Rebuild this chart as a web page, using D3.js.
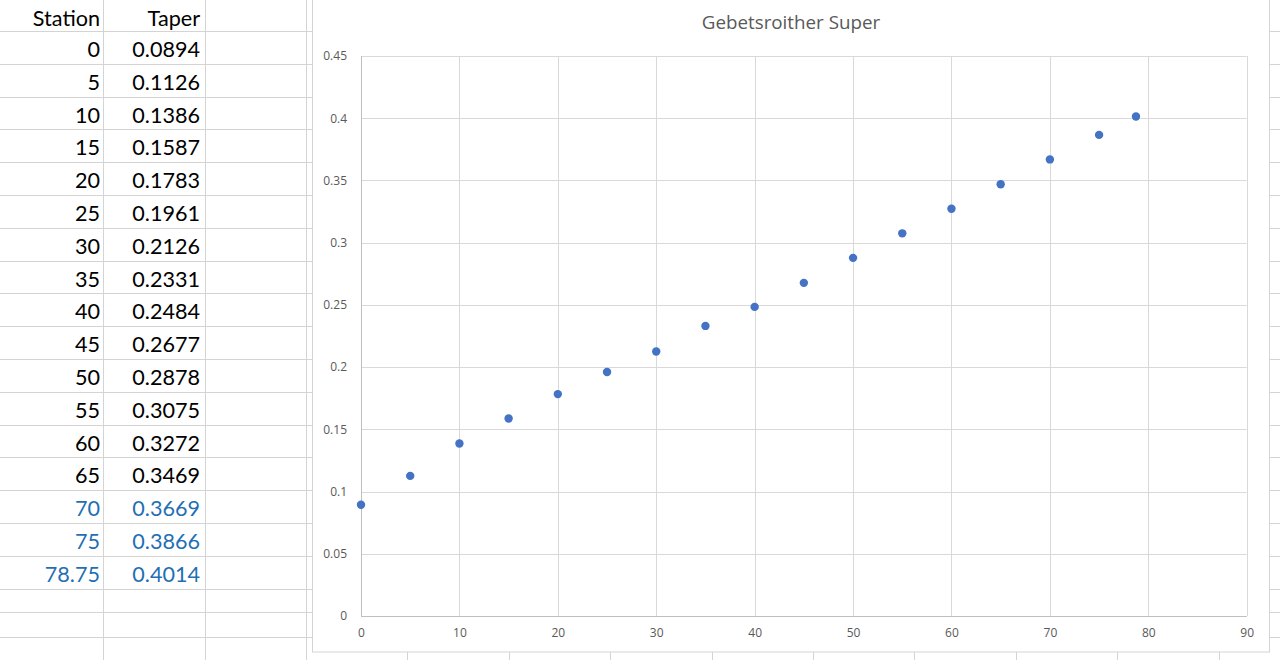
<!DOCTYPE html>
<html><head><meta charset="utf-8">
<script src="https://cdn.jsdelivr.net/npm/d3@7"></script>
<style>
html,body{margin:0;padding:0;background:#fff;overflow:hidden;}
svg{display:block;}
</style></head>
<body>
<svg id="c" width="1280" height="660"></svg>
<script>
// ---- data ----
const stations = [0, 5, 10, 15, 20, 25, 30, 35, 40, 45, 50, 55, 60, 65, 70, 75, 78.75];
const stationLabels = ["0","5","10","15","20","25","30","35","40","45","50","55","60","65","70","75","78.75"];
const tapers = [0.0894, 0.1126, 0.1386, 0.1587, 0.1783, 0.1961, 0.2126, 0.2331, 0.2484, 0.2677, 0.2878, 0.3075, 0.3272, 0.3469, 0.3669, 0.3866, 0.4014];
const taperLabels = ["0.0894","0.1126","0.1386","0.1587","0.1783","0.1961","0.2126","0.2331","0.2484","0.2677","0.2878","0.3075","0.3272","0.3469","0.3669","0.3866","0.4014"];
const highlighted = [false,false,false,false,false,false,false,false,false,false,false,false,false,false,true,true,true];
const headers = ["Station", "Taper"];
const xTicks = [0,10,20,30,40,50,60,70,80,90];
const yTicks = [0,0.05,0.1,0.15,0.2,0.25,0.3,0.35,0.4,0.45];
const chartTitle = "Gebetsroither Super";

const svg = d3.select("#c");
const gridColor = "#d4d4d4";

// ---- spreadsheet background grid ----
const rowLines = [];
for (let k = 0; k <= 17; k++) rowLines.push(31 + 32.8 * k);
rowLines.push(612, 637);
const bg = svg.append("g");
bg.selectAll("line.h").data(rowLines).join("line")
  .attr("x1", 0).attr("x2", 1280)
  .attr("y1", d => Math.round(d) + 0.5).attr("y2", d => Math.round(d) + 0.5)
  .attr("stroke", gridColor).attr("stroke-width", 1);
const colLines = [];
for (let k = -2; k <= 9; k++) colLines.push(306 + 101.4 * k);
bg.selectAll("line.v").data(colLines).join("line")
  .attr("x1", d => Math.round(d) + 0.5).attr("x2", d => Math.round(d) + 0.5)
  .attr("y1", 0).attr("y2", 660)
  .attr("stroke", gridColor).attr("stroke-width", 1);

// ---- table text ----
const tbl = svg.append("g").style("font-family", "Lato, 'Open Sans', sans-serif").style("font-size", "21.6px");
tbl.selectAll("text.hd").data(headers).join("text")
  .attr("x", (d, i) => 100 + i * 100).attr("y", 26)
  .attr("text-anchor", "end").attr("fill", "#000").text(d => d);
tbl.selectAll("text.st").data(stationLabels).join("text")
  .attr("x", 100).attr("y", (d, i) => 57 + 32.8 * i)
  .attr("text-anchor", "end")
  .attr("fill", (d, i) => highlighted[i] ? "#1f6fb4" : "#000").text(d => d);
tbl.selectAll("text.tp").data(taperLabels).join("text")
  .attr("x", 200).attr("y", (d, i) => 57 + 32.8 * i)
  .attr("text-anchor", "end")
  .attr("fill", (d, i) => highlighted[i] ? "#1f6fb4" : "#000").text(d => d);

// ---- chart box ----
svg.append("rect").attr("x", 312.5).attr("y", -5).attr("width", 957).attr("height", 657)
  .attr("fill", "#fff").attr("stroke", "#d4d4d4").attr("stroke-width", 1);

const x = d3.scaleLinear().domain([0, 90]).range([361, 1246.7]);
const y = d3.scaleLinear().domain([0, 0.45]).range([616, 56]);

const ch = svg.append("g").style("font-family", "'Open Sans', sans-serif");

// gridlines
ch.append("g").selectAll("line").data(yTicks).join("line")
  .attr("x1", x(0)).attr("x2", x(90))
  .attr("y1", d => Math.round(y(d)) + 0.5).attr("y2", d => Math.round(y(d)) + 0.5)
  .attr("stroke", "#d9d9d9").attr("stroke-width", 1);
ch.append("g").selectAll("line").data(xTicks).join("line")
  .attr("x1", d => Math.round(x(d)) + 0.5).attr("x2", d => Math.round(x(d)) + 0.5)
  .attr("y1", y(0.45)).attr("y2", y(0))
  .attr("stroke", "#d9d9d9").attr("stroke-width", 1);

// axes via d3 axis generators (no tick marks, no domain)
const yAxis = d3.axisLeft(y).tickValues(yTicks).tickSize(0).tickPadding(14)
  .tickFormat(d => d3.format("")(+d.toFixed(2)));
const gy = ch.append("g").attr("transform", `translate(${x(0)},0)`).call(yAxis);
gy.select(".domain").remove();
gy.selectAll("text").attr("fill", "#595959").style("font-size", "12px").style("font-family", "'Open Sans', sans-serif");

const xAxis = d3.axisBottom(x).tickValues(xTicks).tickSize(0).tickPadding(12).tickFormat(d3.format("d"));
const gx = ch.append("g").attr("transform", `translate(0,${y(0)})`).call(xAxis);
gx.select(".domain").remove();
gx.selectAll("text").attr("fill", "#595959").style("font-size", "12px").style("font-family", "'Open Sans', sans-serif");

// axis lines
ch.append("line").attr("x1", x(0)).attr("x2", x(90)).attr("y1", Math.round(y(0)) + 0.5).attr("y2", Math.round(y(0)) + 0.5)
  .attr("stroke", "#bfbfbf");
ch.append("line").attr("x1", Math.round(x(0)) + 0.5).attr("x2", Math.round(x(0)) + 0.5).attr("y1", y(0.45)).attr("y2", y(0))
  .attr("stroke", "#bfbfbf");

// points
ch.append("g").selectAll("circle").data(stations).join("circle")
  .attr("cx", d => x(d)).attr("cy", (d, i) => y(tapers[i])).attr("r", 4.2)
  .attr("fill", "#4472c4");

// title
ch.append("text").attr("x", 791).attr("y", 29).attr("text-anchor", "middle")
  .attr("fill", "#595959").style("font-size", "18.8px").text(chartTitle);
</script>
</body></html>
